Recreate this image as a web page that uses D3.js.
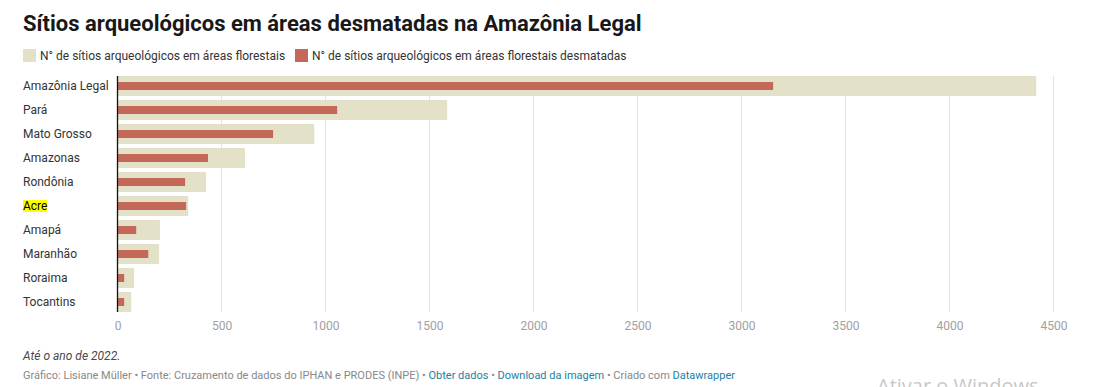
<!DOCTYPE html>
<html>
<head>
<meta charset="utf-8">
<script src="https://cdn.jsdelivr.net/npm/d3@7"></script>
<style>
  body { margin: 0; background: #fff; font-family: Roboto, "Noto Sans", sans-serif; }
  svg text { font-family: Roboto, "Noto Sans", sans-serif; }
</style>
</head>
<body>
<div id="container"></div>
<script>
var estados = ["Amazônia Legal", "Pará", "Mato Grosso", "Amazonas", "Rondônia",
  "Acre", "Amapá", "Maranhão", "Roraima", "Tocantins"];
var florestais = [4417, 1585, 946, 613, 426, 340, 204, 200, 80, 66];
var desmatadas = [3152, 1056, 748, 435, 325, 330, 90, 148, 32, 32];
var ticks = [0, 500, 1000, 1500, 2000, 2500, 3000, 3500, 4000, 4500];

var width = 1099,
    height = 387;

var svg = d3.select("#container")
  .append("svg")
  .attr("width", width)
  .attr("height", height);

// titulo
svg.append("text")
  .attr("x", 23).attr("y", 31)
  .attr("font-size", 22)
  .attr("font-weight", "bold")
  .attr("fill", "#181818")
  .text("Sítios arqueológicos em áreas desmatadas na Amazônia Legal");

// legenda
var legenda = [
  { label: "N° de sítios arqueológicos em áreas florestais", cor: "#e3e1c7", x: 23 },
  { label: "N° de sítios arqueológicos em áreas florestais desmatadas", cor: "#c4695a", x: 295 }
];
var lg = svg.selectAll("g.leg")
  .data(legenda)
  .enter()
  .append("g")
  .attr("class", "leg")
  .attr("transform", function(d) { return "translate(" + d.x + ",49)"; });
lg.append("rect")
  .attr("width", 13).attr("height", 13)
  .attr("fill", function(d) { return d.cor; });
lg.append("text")
  .attr("x", 17).attr("y", 10.5)
  .attr("font-size", 12)
  .attr("fill", "#333")
  .text(function(d) { return d.label; });

var x = d3.scaleLinear()
  .domain([0, 4500])
  .range([117.5, 1053.5]);

var y = d3.scaleBand()
  .domain(estados)
  .range([74, 314])
  .paddingInner(1 / 6)
  .paddingOuter(1 / 12);

// grade
svg.append("g")
  .selectAll("line")
  .data(ticks.slice(1))
  .enter()
  .append("line")
  .attr("x1", function(d) { return x(d); })
  .attr("x2", function(d) { return x(d); })
  .attr("y1", 76).attr("y2", 312)
  .attr("stroke", "#e3e3e3")
  .attr("stroke-width", 1);

// eixo x (só rótulos)
var eixo = svg.append("g")
  .attr("transform", "translate(0,312)")
  .call(d3.axisBottom(x).tickValues(ticks).tickSize(0).tickPadding(9).tickFormat(d3.format("d")));
eixo.select(".domain").remove();
eixo.selectAll("text")
  .attr("font-size", 12)
  .attr("fill", "#a0a0a0")
  .style("font-family", "Roboto, sans-serif");

var dados = estados.map(function(e, i) {
  return { estado: e, florestais: florestais[i], desmatadas: desmatadas[i] };
});

svg.append("g")
  .selectAll("rect")
  .data(dados)
  .enter()
  .append("rect")
  .attr("x", x(0))
  .attr("y", function(d) { return y(d.estado); })
  .attr("width", function(d) { return x(d.florestais) - x(0); })
  .attr("height", y.bandwidth())
  .attr("fill", "#e3e1c7");

svg.append("g")
  .selectAll("rect")
  .data(dados)
  .enter()
  .append("rect")
  .attr("x", x(0))
  .attr("y", function(d) { return y(d.estado) + 6; })
  .attr("width", function(d) { return x(d.desmatadas) - x(0); })
  .attr("height", 8)
  .attr("fill", "#c4695a");

// linha do zero
svg.append("line")
  .attr("x1", x(0)).attr("x2", x(0))
  .attr("y1", 76).attr("y2", 312)
  .attr("stroke", "#111")
  .attr("stroke-width", 1.3);

// rótulos
var rot = svg.append("g")
  .selectAll("g")
  .data(dados)
  .enter()
  .append("g")
  .attr("transform", function(d) { return "translate(23," + (y(d.estado) + y.bandwidth() / 2) + ")"; });
rot.filter(function(d) { return d.estado == "Acre"; })
  .append("rect")
  .attr("x", 0).attr("y", -6)
  .attr("width", 24).attr("height", 12)
  .attr("fill", "#ffff00");
rot.append("text")
  .attr("dy", "0.35em")
  .attr("font-size", 12)
  .attr("fill", function(d) { return d.estado == "Acre" ? "#000" : "#333"; })
  .text(function(d) { return d.estado; });

// notas
svg.append("text")
  .attr("x", 23).attr("y", 360)
  .attr("font-size", 12)
  .attr("font-style", "italic")
  .attr("fill", "#494949")
  .text("Até o ano de 2022.");

var cred = svg.append("text")
  .attr("x", 23).attr("y", 379)
  .attr("font-size", 11)
  .attr("fill", "#888");
var partes = [
  ["Gráfico: Lisiane Müller • Fonte: Cruzamento de dados do IPHAN e PRODES (INPE) • ", "#888"],
  ["Obter dados", "#1d81a2"],
  [" • ", "#888"],
  ["Download da imagem", "#1d81a2"],
  [" • Criado com ", "#888"],
  ["Datawrapper", "#1d81a2"]
];
cred.selectAll("tspan")
  .data(partes)
  .enter()
  .append("tspan")
  .attr("fill", function(d) { return d[1]; })
  .text(function(d) { return d[0]; });

svg.append("text")
  .attr("x", 877).attr("y", 393)
  .attr("font-size", 20)
  .attr("fill", "#c8c8c8")
  .style("font-family", "'Open Sans', sans-serif")
  .text("Ativar o Windows");
</script>
</body>
</html>
